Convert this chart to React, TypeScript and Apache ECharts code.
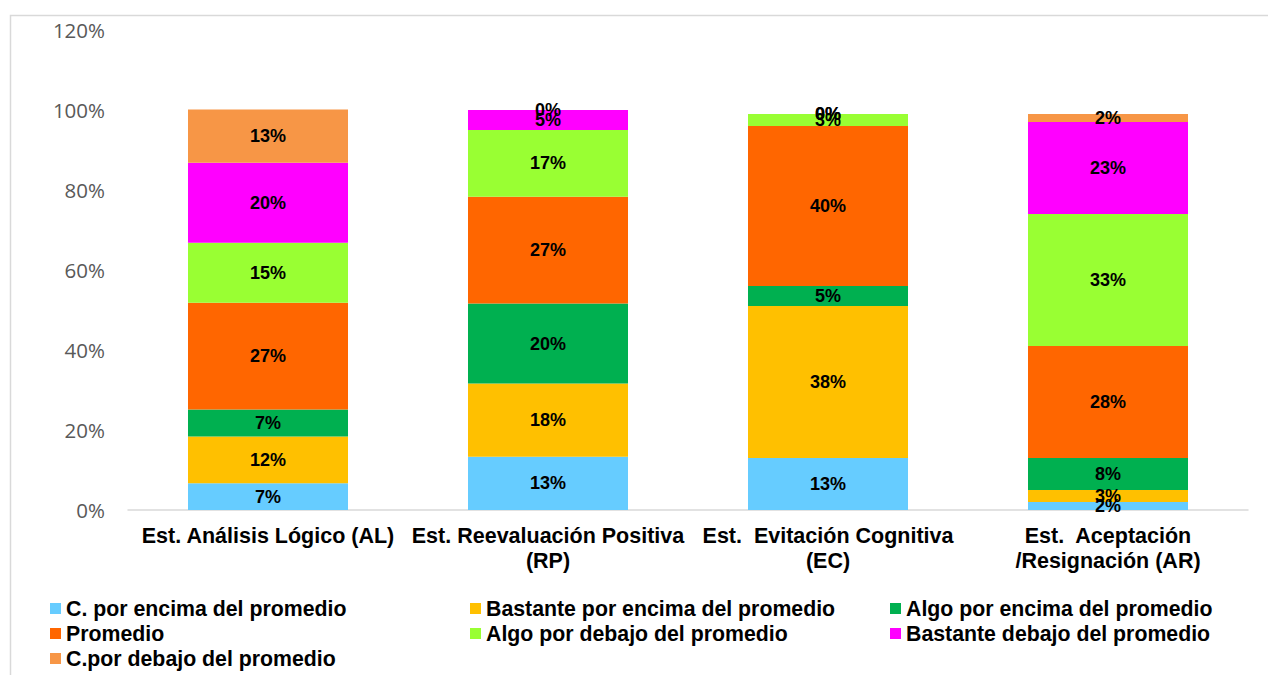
import React, { useEffect, useRef } from "react";
import * as echarts from "echarts";

const categories = [
  "Est. Análisis Lógico (AL)",
  "Est. Reevaluación Positiva\n(RP)",
  "Est.  Evitación Cognitiva\n(EC)",
  "Est.  Aceptación\n/Resignación (AR)",
];

const seriesNames = [
  "C. por encima del promedio",
  "Bastante por encima del promedio",
  "Algo por encima del promedio",
  "Promedio",
  "Algo por debajo del promedio",
  "Bastante debajo del promedio",
  "C.por debajo del promedio",
];

const cPorEncima = [6.7, 13.3, 13, 2];
const bastantePorEncima = [11.7, 18.3, 38, 3];
const algoPorEncima = [6.7, 20, 5, 8];
const promedio = [26.7, 26.7, 40, 28];
const algoPorDebajo = [15, 16.7, 3, 33];
const bastanteDebajo = [20, 5, 0, 23];
const cPorDebajo = [13.3, 0, 0, 2];

const seriesValues = [
  cPorEncima,
  bastantePorEncima,
  algoPorEncima,
  promedio,
  algoPorDebajo,
  bastanteDebajo,
  cPorDebajo,
];

const colors = ["#66CCFF", "#FFC000", "#00B050", "#FF6600", "#99FF33", "#FF00FF", "#F79646"];

const yTicks = [0, 20, 40, 60, 80, 100, 120];

export default function App() {
  const ref = useRef<HTMLDivElement>(null);
  useEffect(() => {
    if (!ref.current) return;
    const chart = echarts.init(ref.current, undefined, { renderer: "svg" });
    const font = "Liberation Sans, Arial, sans-serif";
    const legendText = { fontFamily: font, fontSize: 21.3, fontWeight: "bold" as const, color: "#000", lineHeight: 21 };
    const mkLegend = (left: number, names: string[]) => ({
      orient: "vertical" as const,
      left,
      top: 598,
      padding: 0,
      itemWidth: 11,
      itemHeight: 11,
      itemGap: 4,
      icon: "rect",
      textStyle: legendText,
      data: names,
      selectedMode: false,
    });
    chart.setOption({
      animation: false,
      color: colors,
      graphic: [
        {
          type: "rect",
          shape: { x: 10.5, y: 15.5, width: 1400, height: 800 },
          style: { fill: "none", stroke: "#D9D9D9", lineWidth: 1.5 },
          silent: true,
        },
      ],
      legend: [
        mkLegend(50, [seriesNames[0], seriesNames[3], seriesNames[6]]),
        mkLegend(470, [seriesNames[1], seriesNames[4]]),
        mkLegend(890, [seriesNames[2], seriesNames[5]]),
      ],
      grid: { left: 128, right: 20, top: 30, bottom: 165, containLabel: false },
      xAxis: {
        type: "category",
        data: categories,
        axisLine: { show: true, lineStyle: { color: "#D9D9D9", width: 1.5 } },
        axisTick: { show: false },
        axisLabel: {
          interval: 0,
          margin: 13,
          fontFamily: font,
          fontSize: 21.5,
          fontWeight: "bold",
          color: "#000",
          lineHeight: 25,
        },
      },
      yAxis: {
        type: "value",
        min: yTicks[0],
        max: yTicks[yTicks.length - 1],
        interval: 20,
        splitLine: { show: false },
        axisLine: { show: false },
        axisTick: { show: false },
        axisLabel: {
          formatter: "{value}%",
          margin: 23,
          fontFamily: "Open Sans, Liberation Sans, sans-serif",
          fontSize: 20.5,
          color: "#595959",
        },
      },
      series: seriesNames.map((name, i) => ({
        name,
        type: "bar",
        stack: "total",
        barWidth: 160,
        data: seriesValues[i],
        itemStyle: { color: colors[i] },
        label: {
          show: true,
          position: "inside",
          formatter: (p: any) => `${Math.round(p.value)}%`,
          fontFamily: font,
          fontSize: 18,
          fontWeight: "bold",
          color: "#000",
        },
      })),
    });
    return () => chart.dispose();
  }, []);
  return (
    <div
      ref={ref}
      style={{ position: "fixed", left: 0, top: 0, width: 1268, height: 675, background: "#fff" }}
    />
  );
}
